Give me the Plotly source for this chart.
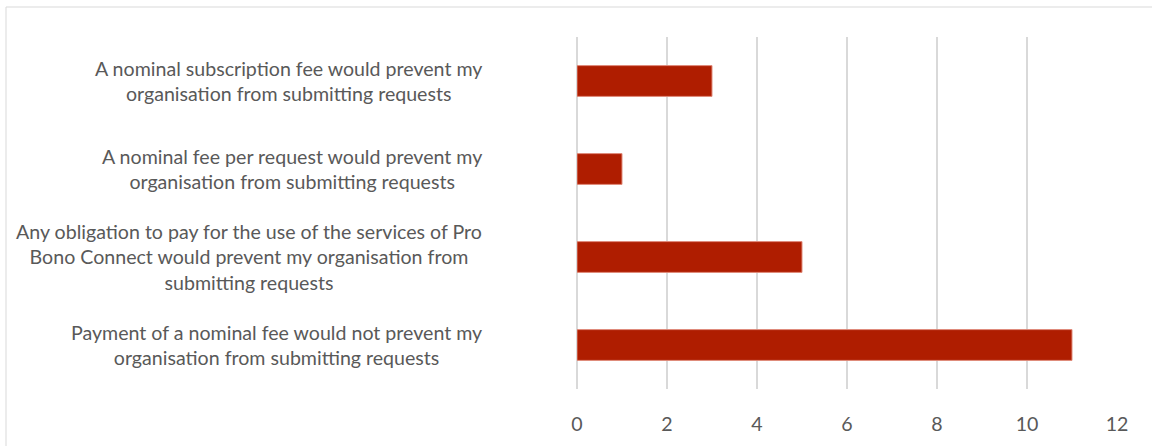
import plotly.graph_objects as go

categories = [
    "A nominal subscription fee would prevent my<br>organisation from submitting requests",
    "A nominal fee per request would prevent my<br>organisation from submitting requests",
    "Any obligation to pay for the use of the services of Pro<br>Bono Connect would prevent my organisation from<br>submitting requests",
    "Payment of a nominal fee would not prevent my<br>organisation from submitting requests",
]
values = [3, 1, 5, 11]
x_ticks = [0, 2, 4, 6, 8, 10, 12]

FONT = "Lato"
GRAY = "#595959"

fig = go.Figure()
fig.add_trace(go.Bar(
    x=values,
    y=categories,
    orientation="h",
    marker=dict(color="#AF1D00", line=dict(color="#E08C7C", width=1)),
    hoverinfo="skip",
))

annotations = []
for c in categories:
    annotations.append(dict(
        x=0, xref="paper", y=c, yref="y",
        text=c, showarrow=False, xanchor="right", yanchor="middle",
        align="center", xshift=-93,
        font=dict(family=FONT, size=19.6, color=GRAY),
    ))

fig.update_layout(
    width=1152, height=446,
    margin=dict(l=577, r=35, t=37, b=57),
    paper_bgcolor="white", plot_bgcolor="white",
    bargap=0.65,
    showlegend=False,
    annotations=annotations,
    shapes=[dict(
        type="rect", xref="paper", yref="paper",
        x0=-1.0574, x1=1.2, y0=-0.3, y1=1.0852,
        line=dict(color="#D9D9D9", width=1), layer="below",
    )],
    xaxis=dict(
        range=[0, 12], tickvals=x_ticks, ticktext=[str(t) for t in x_ticks],
        showgrid=True, gridcolor="#D9D9D9", gridwidth=2,
        zeroline=True, zerolinecolor="#D9D9D9", zerolinewidth=2,
        showline=False, ticks="", ticklabelstandoff=21,
        tickfont=dict(family=FONT, size=19.6, color=GRAY),
        fixedrange=True,
    ),
    yaxis=dict(
        categoryorder="array", categoryarray=categories,
        autorange="reversed", showticklabels=False,
        showgrid=False, zeroline=False, showline=False, ticks="",
        fixedrange=True,
    ),
)

fig.write_html("out.html")
